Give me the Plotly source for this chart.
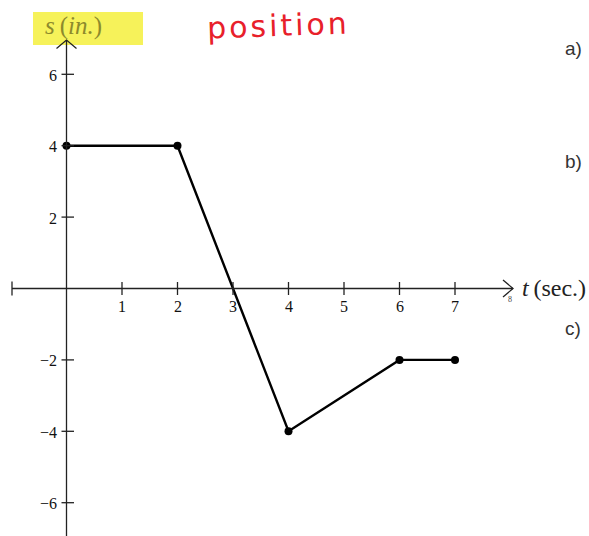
import plotly.graph_objects as go

# Position of the object over time
t_sec = [0, 2, 4, 6, 7]
s_in = [4, 4, -4, -2, -2]

x_tick_vals = [1, 2, 3, 4, 5, 6, 7]
y_tick_vals = [-6, -4, -2, 2, 4, 6]

W, H = 589, 536
PX_X = 55.5      # pixels per second
PX_Y = 35.7      # pixels per inch
X0_PX, Y0_PX = 66.5, 288.5

x_range = [-X0_PX / PX_X, (W - X0_PX) / PX_X]
y_range = [-(H - Y0_PX) / PX_Y, Y0_PX / PX_Y]

def dx(px):
    return px / PX_X

def dy(px):
    return px / PX_Y

fig = go.Figure()

fig.add_trace(go.Scatter(
    x=t_sec, y=s_in, mode="lines+markers",
    line=dict(color="black", width=2.4),
    marker=dict(color="black", size=8),
    hoverinfo="skip", showlegend=False,
))

axis_line = dict(color="#222", width=1.3)
shapes = []
# horizontal t axis with a stop tick on the left
x_left = dx(12 - X0_PX)
x_tip = dx(513 - X0_PX)
shapes.append(dict(type="line", x0=x_left, x1=x_tip, y0=0, y1=0, line=axis_line))
shapes.append(dict(type="line", x0=x_left, x1=x_left, y0=-dy(7), y1=dy(7), line=axis_line))
shapes.append(dict(type="path", line=axis_line,
                   path=f"M {x_tip - dx(10)},{dy(8.5)} L {x_tip},0 L {x_tip - dx(10)},{-dy(8.5)}"))
# vertical s axis with an arrow on top
y_tip = dy(Y0_PX - 40)
shapes.append(dict(type="line", x0=0, x1=0, y0=y_range[0], y1=y_tip, line=axis_line))
shapes.append(dict(type="path", line=axis_line,
                   path=f"M {-dx(10)},{y_tip - dy(8.5)} L 0,{y_tip} L {dx(10)},{y_tip - dy(8.5)}"))

for v in x_tick_vals:
    shapes.append(dict(type="line", x0=v, x1=v, y0=-dy(6.5), y1=dy(6.5), line=axis_line))
for v in y_tick_vals:
    shapes.append(dict(type="line", x0=-dx(5), x1=dx(7.5), y0=v, y1=v, line=axis_line))

# highlighter behind the s-axis title
shapes.append(dict(type="rect", xref="paper", yref="paper",
                   x0=33 / W, x1=143 / W, y0=1 - 45 / H, y1=1 - 12 / H,
                   fillcolor="#f6f25a", line=dict(width=0), layer="below"))

serif = "Liberation Serif"
ann = []
for v in x_tick_vals:
    ann.append(dict(x=v, y=0, text=str(v), showarrow=False, yshift=-18,
                    yanchor="middle", font=dict(family=serif, size=16, color="#111")))
ann.append(dict(x=8, y=0, text="8", showarrow=False, yshift=-11, xshift=-1,
                yanchor="middle", font=dict(family=serif, size=8, color="#444")))
for v in y_tick_vals:
    label = str(v).replace("-", "\u2212")
    ann.append(dict(x=0, y=v, text=label, showarrow=False, xanchor="right",
                    yanchor="middle", xshift=-8, yshift=-1,
                    font=dict(family=serif, size=16, color="#111")))

ann.append(dict(x=x_tip, y=0, text="<i>t</i>\u2009(sec.)", showarrow=False,
                xanchor="left", yanchor="middle", xshift=7, yshift=1,
                font=dict(family=serif, size=24, color="#222")))
ann.append(dict(xref="paper", yref="paper", x=43 / W, y=1 - 26 / H,
                text="<i>s</i>\u2009(<i>in.</i>)", showarrow=False,
                xanchor="left", yanchor="middle",
                font=dict(family=serif, size=25, color="#8d8a2c")))
ann.append(dict(xref="paper", yref="paper", x=204 / W, y=1 - 25 / H,
                text="\u200a".join("position"), showarrow=False,
                xanchor="left", yanchor="middle", textangle=-2,
                font=dict(family="DejaVu Sans", size=30, color="#e8202a")))

for lbl, ypx in [("a)", 49), ("b)", 161), ("c)", 328)]:
    ann.append(dict(xref="paper", yref="paper", x=563 / W, y=1 - ypx / H,
                    text=lbl, showarrow=False, xanchor="left", yanchor="middle",
                    font=dict(family="Liberation Sans", size=19, color="#333")))

fig.update_layout(
    width=W, height=H,
    margin=dict(l=0, r=0, t=0, b=0),
    paper_bgcolor="white", plot_bgcolor="white",
    xaxis=dict(range=x_range, visible=False, fixedrange=True),
    yaxis=dict(range=y_range, visible=False, fixedrange=True),
    shapes=shapes, annotations=ann,
)

fig.write_html("out.html")
